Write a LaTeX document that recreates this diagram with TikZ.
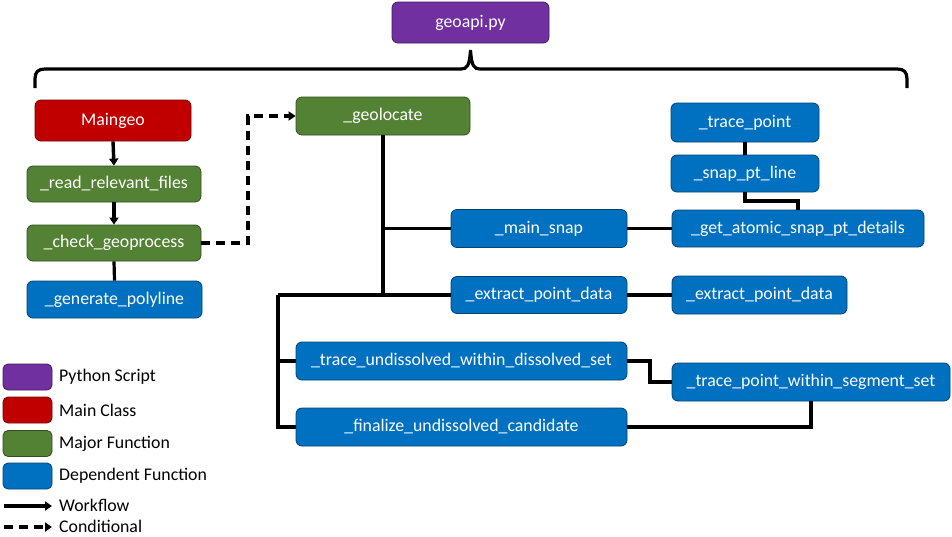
\documentclass[tikz,border=0pt]{standalone}
\usepackage{fontspec}
\setmainfont{Carlito}
\usetikzlibrary{arrows.meta}
\definecolor{cpurple}{HTML}{7030A0}
\definecolor{cred}{HTML}{C00000}
\definecolor{cgreen}{HTML}{548235}
\definecolor{cblue}{HTML}{0070C0}
\tikzset{
  box/.style={rectangle, rounded corners=6pt, inner sep=0pt, line width=0.8pt,
    text=white, font=\fontsize{17.8pt}{20pt}\selectfont},
  pbox/.style={box, fill=cpurple, draw=cpurple!60!black},
  rbox/.style={box, fill=cred, draw=cred!60!black},
  gbox/.style={box, fill=cgreen, draw=cgreen!60!black},
  bbox/.style={box, fill=cblue, draw=cblue!60!black},
  conn/.style={line width=3.2pt, black},
  flow/.style={conn, line width=3.4pt, -{Triangle[length=7pt,width=9pt]}},
  cond/.style={flow, dash pattern=on 9pt off 6pt},
  leg/.style={rectangle, rounded corners=5pt, minimum width=49pt, minimum height=26pt, inner sep=0pt, line width=0.8pt},
  legtext/.style={anchor=west, inner sep=0pt, font=\fontsize{17.8pt}{20pt}\selectfont}
}
\begin{document}
\begin{tikzpicture}[x=1pt,y=-1pt]
\useasboundingbox (0,0) rectangle (952,536);
% boxes
\node[pbox, minimum width=157pt, minimum height=41pt] (geo) at (470.5,22.5) {geoapi.py};
\node[rbox, minimum width=156pt, minimum height=41pt] (maingeo) at (113,120.5) {Maingeo};
\node[gbox, minimum width=174pt, minimum height=36pt] (read) at (114,184) {\_read\_relevant\_files};
\node[gbox, minimum width=174pt, minimum height=36pt] (check) at (114,243) {\_check\_geoprocess};
\node[bbox, minimum width=175pt, minimum height=37pt] (gen) at (114.5,299.5) {\_generate\_polyline};
\node[gbox, minimum width=174pt, minimum height=38pt] (geoloc) at (383,116) {\_geolocate};
\node[bbox, minimum width=148pt, minimum height=39pt] (tracept) at (745,122.5) {\_trace\_point};
\node[bbox, minimum width=148pt, minimum height=37pt] (snap) at (745,173.5) {\_snap\_pt\_line};
\node[bbox, minimum width=252pt, minimum height=37pt] (atomic) at (798,228.5) {\_get\_atomic\_snap\_pt\_details};
\node[bbox, minimum width=176pt, minimum height=38pt] (mainsnap) at (539,228.5) {\_main\_snap};
\node[bbox, minimum width=176pt, minimum height=37pt] (extractA) at (539,295) {\_extract\_point\_data};
\node[bbox, minimum width=175pt, minimum height=38pt] (extractB) at (759.5,295) {\_extract\_point\_data};
\node[bbox, minimum width=331pt, minimum height=38pt] (traceund) at (461.5,361) {\_trace\_undissolved\_within\_dissolved\_set};
\node[bbox, minimum width=278pt, minimum height=38pt] (within) at (811,382) {\_trace\_point\_within\_segment\_set};
\node[bbox, minimum width=331pt, minimum height=38pt] (final) at (461.5,427) {\_finalize\_undissolved\_candidate};
% brace
\draw[conn] (35,88) -- (35,79) .. controls (35,72) and (38,69) .. (45,69) -- (461,69)
  .. controls (467,69) and (469.5,66) .. (470.5,50) .. controls (471.5,66) and (474,69) .. (480,69)
  -- (897,69) .. controls (904,69) and (907,72) .. (907,79) -- (907,88);
% left column
\draw[flow] (maingeo.south) -- (read.north);
\draw[flow] (read.south) -- (check.north);
\draw[conn] (check.south) -- (gen.north);
\coordinate (dk) at (248,243);
\draw[cond] (check.east) -- (dk) |- (geoloc.west);
% trunk
\coordinate (lft) at (278,295);
\draw[conn] (geoloc.south) -- (geoloc.south |- extractA.west) -- (extractA.west);
\draw[conn] (geoloc.south |- mainsnap.west) -- (mainsnap.west);
\draw[conn] (lft) -- (geoloc.south |- lft);
\draw[conn] (lft) |- (final.west);
\draw[conn] (lft |- traceund.west) -- (traceund.west);
% right side
\draw[conn] (mainsnap.east) -- (atomic.west);
\draw[conn] (extractA.east) -- (extractB.west);
\draw[conn] (tracept.south) -- (snap.north);
\coordinate (sk) at (798,201);
\draw[conn] (snap.south) |- (sk) -- (atomic.north);
\coordinate (tk) at (650,361);
\draw[conn] (traceund.east) -- (tk) |- (within.west);
\coordinate (fk) at (811,427);
\draw[conn] (final.east) -- (fk) -- (within.south);
% legend
\node[leg, fill=cpurple, draw=cpurple!60!black] (lp) at (27.5,377) {};
\node[leg, fill=cred, draw=cred!60!black] (lr) at (27.5,410) {};
\node[leg, fill=cgreen, draw=cgreen!60!black] (lg) at (27.5,443.5) {};
\node[leg, fill=cblue, draw=cblue!60!black] (lb) at (27.5,476) {};
\node[legtext] (tp) at (59,377) {Python Script};
\node[legtext] (tr) at (59,410) {Main Class};
\node[legtext] (tg) at (59,443.5) {Major Function};
\node[legtext] (tb) at (59,476) {Dependent Function};
\coordinate (wa) at (4,506);
\coordinate (wb) at (52,506);
\coordinate (ca) at (4,527);
\coordinate (cb) at (52,527);
\draw[flow] (wa) -- (wb);
\draw[cond] (ca) -- (cb);
\node[legtext] (tw) at (59,505) {Workflow};
\node[legtext] (tc) at (59,526) {Conditional};
\end{tikzpicture}
\end{document}
